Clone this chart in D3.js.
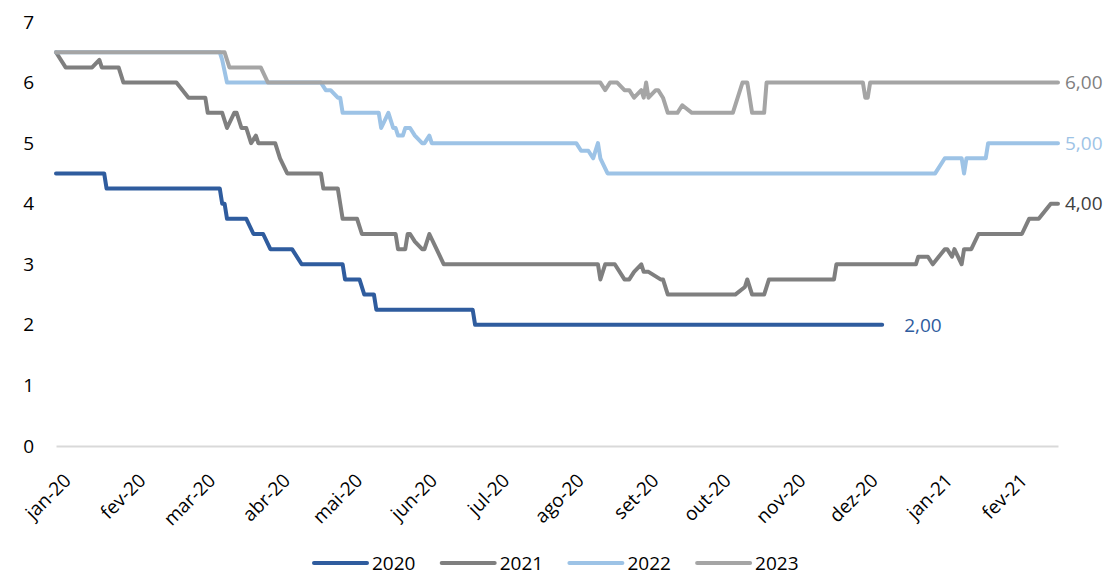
<!DOCTYPE html>
<html>
<head>
<meta charset="utf-8">
<script src="https://cdn.jsdelivr.net/npm/d3@7"></script>
<style>
  html, body { margin: 0; padding: 0; background: #fff; }
  svg { display: block; font-family: "Open Sans", "Noto Sans", sans-serif; }
</style>
</head>
<body>
<svg id="chart" width="1105" height="575"></svg>
<script>
// Expectativas da Selic (fim de ano) por data de referência
const years = ["2020", "2021", "2022", "2023"];
const colors = ["#2f5c9e", "#7f7f7f", "#9dc3e6", "#a5a5a5"];
const labelColors = ["#2f5c9e", "#404040", "#9dc3e6", "#7f7f7f"];

const selic2020 = [
  ["2020-01-01",4.5],["2020-01-21",4.5],["2020-01-22",4.25],["2020-03-09",4.25],["2020-03-10",4.0],
  ["2020-03-11",4.0],["2020-03-12",3.75],["2020-03-20",3.75],["2020-03-23",3.5],["2020-03-27",3.5],
  ["2020-03-30",3.25],["2020-04-08",3.25],["2020-04-12",3.0],["2020-04-29",3.0],["2020-04-30",2.75],
  ["2020-05-06",2.75],["2020-05-08",2.5],["2020-05-12",2.5],["2020-05-13",2.25],["2020-06-22",2.25],
  ["2020-06-23",2.0],["2020-12-09",2.0]
];

const selic2021 = [
  ["2020-01-01",6.5],["2020-01-05",6.25],["2020-01-16",6.25],["2020-01-19",6.375],["2020-01-20",6.25],
  ["2020-01-27",6.25],["2020-01-29",6.0],["2020-02-20",6.0],["2020-02-25",5.75],["2020-03-03",5.75],
  ["2020-03-04",5.5],["2020-03-10",5.5],["2020-03-12",5.25],["2020-03-15",5.5],["2020-03-16",5.5],
  ["2020-03-18",5.25],["2020-03-20",5.25],["2020-03-22",5.0],["2020-03-24",5.125],["2020-03-25",5.0],
  ["2020-04-01",5.0],["2020-04-03",4.75],["2020-04-06",4.5],["2020-04-20",4.5],["2020-04-21",4.25],
  ["2020-04-27",4.25],["2020-04-28",4.0],["2020-04-29",3.75],["2020-05-05",3.75],["2020-05-07",3.5],
  ["2020-05-21",3.5],["2020-05-22",3.25],["2020-05-25",3.25],["2020-05-26",3.5],["2020-05-27",3.5],
  ["2020-05-29",3.375],["2020-06-01",3.25],["2020-06-02",3.25],["2020-06-04",3.5],["2020-06-07",3.25],
  ["2020-06-10",3.0],["2020-08-13",3.0],["2020-08-14",2.75],["2020-08-16",3.0],["2020-08-20",3.0],
  ["2020-08-24",2.75],["2020-08-26",2.75],["2020-08-28",2.875],["2020-08-31",3.0],["2020-09-01",2.875],
  ["2020-09-03",2.875],["2020-09-08",2.75],["2020-09-09",2.75],["2020-09-11",2.5],["2020-10-09",2.5],
  ["2020-10-13",2.625],["2020-10-14",2.75],["2020-10-16",2.5],["2020-10-21",2.5],["2020-10-23",2.75],
  ["2020-11-19",2.75],["2020-11-20",3.0],["2020-12-23",3.0],["2020-12-24",3.125],["2020-12-28",3.125],
  ["2020-12-30",3.0],["2021-01-04",3.25],["2021-01-05",3.25],["2021-01-07",3.125],["2021-01-08",3.25],
  ["2021-01-11",3.0],["2021-01-12",3.25],["2021-01-15",3.25],["2021-01-18",3.5],["2021-02-05",3.5],
  ["2021-02-08",3.75],["2021-02-12",3.75],["2021-02-17",4.0],["2021-02-20",4.0]
];

const selic2022 = [
  ["2020-01-01",6.5],["2020-03-09",6.5],["2020-03-10",6.375],["2020-03-12",6.0],["2020-04-20",6.0],
  ["2020-04-22",5.875],["2020-04-24",5.875],["2020-04-27",5.75],["2020-04-28",5.75],["2020-04-29",5.5],
  ["2020-05-14",5.5],["2020-05-15",5.25],["2020-05-18",5.5],["2020-05-20",5.25],["2020-05-21",5.25],
  ["2020-05-22",5.125],["2020-05-24",5.125],["2020-05-25",5.25],["2020-05-27",5.25],["2020-05-29",5.125],
  ["2020-06-01",5.0],["2020-06-02",5.0],["2020-06-04",5.125],["2020-06-05",5.0],["2020-08-04",5.0],
  ["2020-08-06",4.875],["2020-08-09",4.875],["2020-08-11",4.75],["2020-08-13",5.0],["2020-08-14",4.75],
  ["2020-08-17",4.5],["2020-12-31",4.5],["2021-01-04",4.75],["2021-01-11",4.75],["2021-01-12",4.5],
  ["2021-01-13",4.75],["2021-01-21",4.75],["2021-01-22",5.0],["2021-02-20",5.0]
];

const selic2023 = [
  ["2020-01-01",6.5],["2020-03-11",6.5],["2020-03-13",6.25],["2020-03-26",6.25],["2020-03-29",6.0],
  ["2020-08-14",6.0],["2020-08-16",5.875],["2020-08-18",6.0],["2020-08-21",6.0],["2020-08-24",5.875],
  ["2020-08-26",5.875],["2020-08-28",5.75],["2020-08-31",5.875],["2020-09-01",5.75],["2020-09-02",6.0],
  ["2020-09-03",5.75],["2020-09-06",5.875],["2020-09-07",5.875],["2020-09-09",5.75],["2020-09-11",5.5],
  ["2020-09-15",5.5],["2020-09-17",5.625],["2020-09-21",5.5],["2020-10-08",5.5],["2020-10-12",6.0],
  ["2020-10-14",6.0],["2020-10-16",5.5],["2020-10-21",5.5],["2020-10-22",6.0],["2020-12-01",6.0],
  ["2020-12-02",5.75],["2020-12-03",5.75],["2020-12-04",6.0],["2021-02-20",6.0]
];

const monthLabels = ["jan-20","fev-20","mar-20","abr-20","mai-20","jun-20","jul-20",
                     "ago-20","set-20","out-20","nov-20","dez-20","jan-21","fev-21"];
const yTicks = [0, 1, 2, 3, 4, 5, 6, 7];

const parse = d3.timeParse("%Y-%m-%d");
const series = [selic2020, selic2021, selic2022, selic2023].map((rows, i) => ({
  name: years[i],
  color: colors[i],
  labelColor: labelColors[i],
  values: rows.map(([d, v]) => ({ date: parse(d), value: v }))
}));

const svg = d3.select("#chart");
const x = d3.scaleTime()
  .domain([parse("2020-01-01"), parse("2021-02-20")])
  .range([56, 1058]);
const y = d3.scaleLinear().domain([0, 7]).range([446, 22]);

const fontSize = 19;

// y axis: labels only
const yAxis = svg.append("g")
  .attr("transform", "translate(56,0)")
  .call(d3.axisLeft(y).tickValues(yTicks).tickFormat(d3.format("d")).tickSize(0).tickPadding(22));
yAxis.select(".domain").remove();
yAxis.selectAll("text")
  .attr("font-size", fontSize)
  .attr("font-family", "Open Sans, Noto Sans, sans-serif")
  .attr("fill", "#000");

// x axis: baseline plus rotated month labels
const monthDates = monthLabels.map((_, i) => new Date(2020, i, 1));
const xAxis = svg.append("g")
  .attr("transform", `translate(0,${y(0)})`)
  .call(d3.axisBottom(x).tickValues(monthDates)
    .tickFormat((d, i) => monthLabels[i]).tickSize(0).tickPadding(0));
xAxis.select(".domain").attr("stroke", "#d9d9d9").attr("stroke-width", 2);
xAxis.selectAll("text")
  .attr("font-size", fontSize)
  .attr("font-family", "Open Sans, Noto Sans, sans-serif")
  .attr("fill", "#000")
  .attr("text-anchor", "end")
  .attr("y", 0).attr("dy", "0.35em")
  .attr("transform", "translate(11,31) rotate(-45)");

// lines
const line = d3.line().x(d => x(d.date)).y(d => y(d.value));
svg.append("g").selectAll("path")
  .data(series)
  .join("path")
  .attr("d", d => line(d.values))
  .attr("fill", "none")
  .attr("stroke", d => d.color)
  .attr("stroke-width", 4)
  .attr("stroke-linejoin", "round")
  .attr("stroke-linecap", "round");

// end-of-line value labels
const fmt = v => d3.format(".2f")(v).replace(".", ",");
svg.append("g").selectAll("text")
  .data(series)
  .join("text")
  .attr("x", d => x(d.values[d.values.length - 1].date) + (d.name === "2020" ? 22 : 7))
  .attr("y", d => y(d.values[d.values.length - 1].value))
  .attr("dy", "0.35em")
  .attr("font-size", fontSize)
  .attr("fill", d => d.labelColor)
  .text(d => fmt(d.values[d.values.length - 1].value));

// legend
const legend = svg.append("g").attr("transform", "translate(314,563)");
const item = legend.selectAll("g")
  .data(series)
  .join("g")
  .attr("transform", (d, i) => `translate(${i * 127.7},0)`);
item.append("line")
  .attr("x1", 0).attr("x2", 53)
  .attr("stroke", d => d.color)
  .attr("stroke-width", 4)
  .attr("stroke-linecap", "round");
item.append("text")
  .attr("x", 58)
  .attr("dy", "0.35em")
  .attr("font-size", fontSize)
  .attr("fill", "#000")
  .text(d => d.name);
</script>
</body>
</html>
